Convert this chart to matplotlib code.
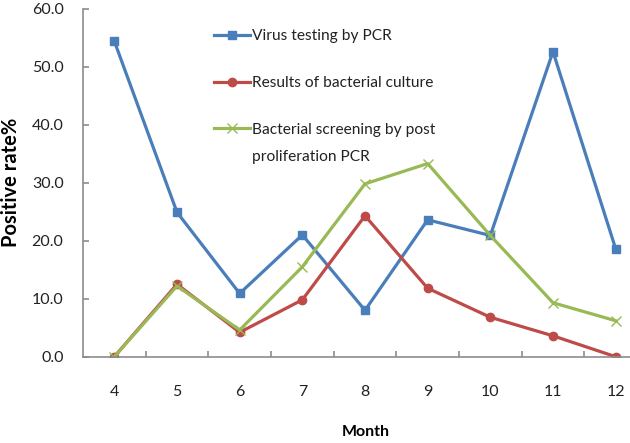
import matplotlib
matplotlib.use("Agg")
import numpy as np
import matplotlib.pyplot as plt

plt.rcParams["font.family"] = ["Lato", "DejaVu Sans"]

# ---------- data ----------
months = [4, 5, 6, 7, 8, 9, 10, 11, 12]
virus_pcr = [54.4, 24.9, 10.9, 21.0, 8.0, 23.6, 20.9, 52.6, 18.6]
bact_culture = [0.0, 12.5, 4.2, 9.8, 24.3, 11.8, 6.8, 3.6, 0.0]
bact_post_pcr = [0.0, 12.2, 4.6, 15.5, 29.8, 33.3, 20.9, 9.3, 6.2]
yticks = [0, 10, 20, 30, 40, 50, 60]

labels = [
    "Virus testing by PCR",
    "Results of bacterial culture",
    "Bacterial screening by post\nproliferation PCR",
]
colors = ["#4A7EBB", "#BE4B48", "#98B954"]
axis_gray = "#8C8C8C"
text_color = "#222222"

fig = plt.figure(figsize=(6.3, 4.43), dpi=100)
ax = fig.add_axes([83 / 630, 86.3 / 443, 564 / 630, 348 / 443])

ax.plot(months, virus_pcr, color=colors[0], lw=2.3, marker="s", ms=6,
        label=labels[0])
ax.plot(months, bact_culture, color=colors[1], lw=2.3, marker="o", ms=6,
        label=labels[1])
ax.plot(months, bact_post_pcr, color=colors[2], lw=2.3, marker="x",
        ms=7, mew=1.0, label=labels[2])

ax.set_xlim(3.5, 12.5)
ax.set_ylim(0, 60)
ax.set_yticks(yticks)
ax.set_yticklabels([f"{v:.1f}" for v in yticks])
ax.set_xticks(months)
ax.set_xticklabels([])
ax.set_xticks([m + 0.5 for m in months[:-1]], minor=True)

for s in ["top", "right"]:
    ax.spines[s].set_visible(False)
for s in ["left", "bottom"]:
    ax.spines[s].set_color(axis_gray)
    ax.spines[s].set_linewidth(1.2)

ax.tick_params(axis="y", direction="in", length=4.5, width=1.2,
               color=axis_gray, pad=14, labelsize=11.5, labelcolor=text_color)
ax.tick_params(axis="x", which="minor", direction="in", length=4.5,
               width=1.2, color=axis_gray)
ax.tick_params(axis="x", which="major", length=0)

# month numbers, set well below the axis line as in the source
for m in months:
    ax.text(m, -(392 - 356.7) / 348, str(m), transform=ax.get_xaxis_transform(),
            ha="center", va="center", fontsize=11.5, color=text_color)

ax.set_ylabel("Positive rate%", fontweight="bold", fontsize=14.5)
ax.yaxis.set_label_coords((21 - 83) / 564, 0.5)
ax.set_xlabel("Month", fontweight="bold", fontsize=11.5)
ax.xaxis.set_label_coords((366 - 83) / 564, -(425 - 356.7) / 348)

leg = ax.legend(
    loc="upper left", bbox_to_anchor=(214 / 630, 1 - 29 / 443),
    bbox_transform=fig.transFigure, frameon=False, fontsize=11.2,
    handlelength=2.3, handletextpad=0.15, labelspacing=2.12,
    borderpad=0, borderaxespad=0,
)
for t in leg.get_texts():
    t.set_color(text_color)
leg.get_texts()[2].set_linespacing(2.2)

# lift the two-line entry's handle up to its first text line
h3 = leg.legend_handles[2]
h3.set_ydata(np.asarray(h3.get_ydata()) + 11)

fig.savefig("out.png", dpi=100)
